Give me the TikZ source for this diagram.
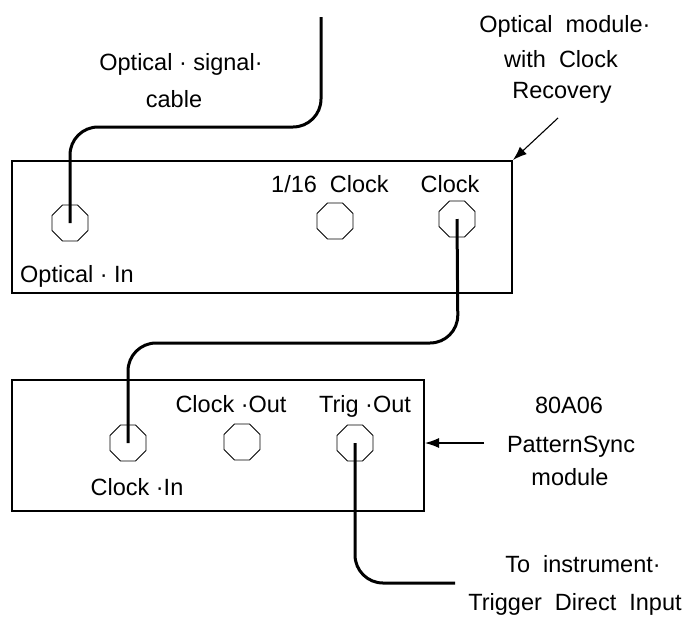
\documentclass[tikz,border=0pt]{standalone}
\usepackage{fontspec}
\setmainfont{Liberation Sans}
\usetikzlibrary{shapes.geometric,arrows.meta}
\begin{document}
\begin{tikzpicture}[x=1pt,y=-1pt,
  lbl/.style={anchor=base,inner sep=0pt,font=\fontsize{23.5}{27}\selectfont},
  modbox/.style={draw,line width=1.3pt},
  jack/.style={draw,regular polygon,regular polygon sides=8,minimum size=39pt,inner sep=0pt,line width=0.8pt},
  cable/.style={line width=3pt,rounded corners=28pt},
  pointer/.style={line width=1.1pt,-{Latex[length=14pt,width=10pt]}}]
\useasboundingbox (0,0) rectangle (693,619);
% boxes
\draw[modbox] (12,161) rectangle (512,293);
\draw[modbox] (12,380) rectangle (424,511);
\coordinate (box1corner) at (513,160);
\coordinate (box2side) at (425,443);
% jacks
\node[jack] (optin) at (70,223) {};
\node[jack] (sixteen) at (335,221) {};
\node[jack] (clk) at (457,219) {};
\node[jack] (clkin) at (128,443) {};
\node[jack] (clkout) at (242,442) {};
\node[jack] (trig) at (355,443) {};
% texts
\node[lbl] (t1) at (181,70) {Optical · signal·};
\node[lbl] (t2) at (174,107) {cable};
\node[lbl] (t3) at (565,32) {Optical\ \ module·};
\node[lbl] (t4) at (561,67) {with\ \ Clock};
\node[lbl] (t5) at (562,98) {Recovery};
\node[lbl] (t6) at (330,192) {1/16\ \ Clock};
\node[lbl] (t7) at (450,192) {Clock};
\node[lbl] (t8) at (77,282) {Optical · In};
\node[lbl] (t9) at (231,412) {Clock ·Out};
\node[lbl] (t10) at (365,412) {Trig ·Out};
\node[lbl] (t11) at (137,495) {Clock ·In};
\node[lbl] (t12) at (569,413) {80A06};
\node[lbl] (t13) at (571,452) {PatternSync};
\node[lbl] (t14) at (570,485) {module};
\node[lbl] (t15) at (583,572) {To\ \ instrument·};
\node[lbl] (t16) at (575,610) {Trigger\ \ Direct\ \ Input};
% arrows
\coordinate (a1) at (558,118);
\draw[pointer] (a1) -- (box1corner);
\coordinate (a2) at (484,443);
\draw[pointer] (a2) -- (box2side);
% cables
\coordinate (c1top) at (321,17);
\draw[cable] (c1top) -- (321,127) -- (70,127) -- (optin.center);
\draw[cable] (clk.center) -- (458,343) -- (128,343) -- (clkin.center);
\coordinate (c3end) at (455,583);
\draw[cable] (trig.center) -- (355,583) -- (c3end);
\end{tikzpicture}
\end{document}
